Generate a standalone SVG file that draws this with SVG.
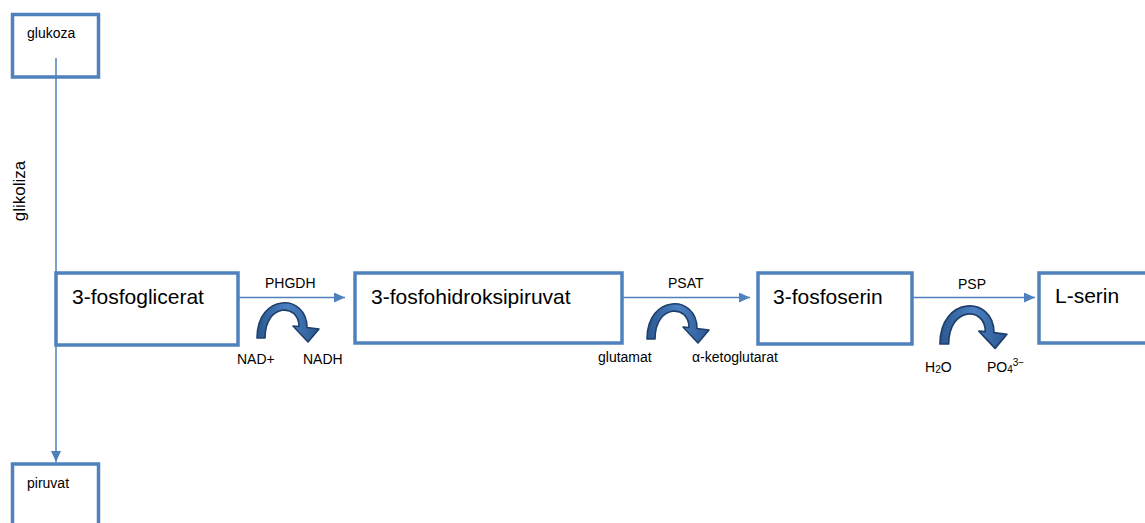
<svg xmlns="http://www.w3.org/2000/svg" width="1145" height="523" viewBox="0 0 1145 523">
<style>
.box{fill:#fff;stroke:#4f81bd;stroke-width:3.5}
.big{font-family:"Liberation Sans",Arial,sans-serif;font-size:21px;fill:#000}
.sm{font-family:"Liberation Sans",Arial,sans-serif;font-size:14px;fill:#000}
.ln{stroke:#4f81bd;stroke-width:1.5;fill:none}
.curl{stroke:#1f3f6b;stroke-width:1.6;stroke-linejoin:round}
</style>
<defs>
<marker id="ah" markerWidth="12" markerHeight="10" refX="11" refY="5" orient="auto" markerUnits="userSpaceOnUse">
<path d="M0,0 L11,5 L0,10 Z" fill="#4f81bd"/>
</marker>
<linearGradient id="cg" x1="0" y1="0" x2="1" y2="0">
<stop offset="0" stop-color="#2a5790"/>
<stop offset="0.5" stop-color="#4b80c2"/>
<stop offset="1" stop-color="#2a5790"/>
</linearGradient>
<path id="curl" d="M0,0 C0,-45 50,-45 50,-10.5 L62,-9 L51,4 L36,-12 L42,-11.5 C42,-35 8,-35 8,0 Z"/>
</defs>
<g id="connectors">
<line class="ln" x1="56" y1="58" x2="56" y2="462" marker-end="url(#ah)"/>
<line class="ln" x1="238" y1="297.5" x2="345" y2="297.5" marker-end="url(#ah)"/>
<line class="ln" x1="622" y1="297.5" x2="750" y2="297.5" marker-end="url(#ah)"/>
<line class="ln" x1="912" y1="297.5" x2="1035" y2="297.5" marker-end="url(#ah)"/>
<use href="#curl" class="curl" fill="url(#cg)" transform="translate(257,338)"/>
<use href="#curl" class="curl" fill="url(#cg)" transform="translate(647,339)"/>
<use href="#curl" class="curl" fill="url(#cg)" transform="translate(940,344) scale(1.08)"/>
<text class="sm" x="265" y="288">PHGDH</text>
<text class="sm" x="668" y="288">PSAT</text>
<text class="sm" x="958" y="289">PSP</text>
<text class="sm" x="237" y="364">NAD+</text>
<text class="sm" x="303" y="364">NADH</text>
<text class="sm" x="598" y="362">glutamat</text>
<text class="sm" x="692" y="362">α-ketoglutarat</text>
<text class="sm" x="925" y="372">H<tspan style="font-size:10px" dy="1">2</tspan><tspan dy="-1">O</tspan></text>
<text class="sm" x="987" y="372">PO<tspan style="font-size:10px" dy="1">4</tspan><tspan style="font-size:10px" dy="-7">3−</tspan></text>
<text class="sm" transform="translate(25,191) rotate(-90)" text-anchor="middle" style="font-size:17px">glikoliza</text>
</g>
<g id="glukoza">
<rect class="box" x="12.5" y="14.5" width="86" height="62.5"/>
<text class="sm" x="27" y="38">glukoza</text>
</g>
<line class="ln" x1="56" y1="58" x2="56" y2="77"/>
<g id="piruvat">
<rect class="box" x="12.5" y="464" width="86" height="80"/>
<text class="sm" x="27" y="488">piruvat</text>
</g>
<g id="fosfoglicerat">
<rect class="box" x="56" y="273" width="182" height="72"/>
<text class="big" x="72" y="304">3-fosfoglicerat</text>
</g>
<g id="fosfohidroksipiruvat">
<rect class="box" x="355" y="273" width="267" height="70"/>
<text class="big" x="371" y="304">3-fosfohidroksipiruvat</text>
</g>
<g id="fosfoserin">
<rect class="box" x="758" y="273" width="154" height="71"/>
<text class="big" x="773" y="304">3-fosfoserin</text>
</g>
<g id="serin">
<rect class="box" x="1039" y="273" width="120" height="70"/>
<text class="big" x="1055" y="303">L-serin</text>
</g>
</svg>
